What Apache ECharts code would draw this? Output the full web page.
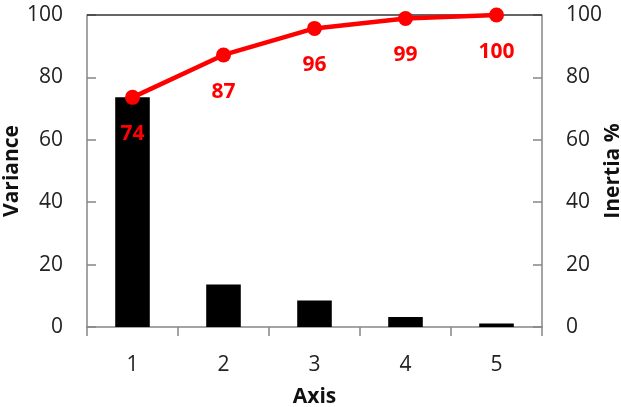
<!DOCTYPE html>
<html><head><meta charset="utf-8">
<script src="https://cdn.jsdelivr.net/npm/echarts@6/dist/echarts.min.js"></script>
<style>html,body{margin:0;padding:0;background:#fff}#c{width:621px;height:407px}</style>
</head><body><div id="c"></div>
<script>
var categories = ['1', '2', '3', '4', '5'];
var variance = [73.6, 13.6, 8.5, 3.2, 1.1];
var inertia = [73.6, 87.2, 95.7, 98.9, 100];
var yTicks = [0, 20, 40, 60, 80, 100];

var font = 'Open Sans';
var chart = echarts.init(document.getElementById('c'));
var axisLine = {show: true, lineStyle: {color: '#868686', width: 1.5}};
var yLabel = {fontFamily: font, fontSize: 21, color: '#222', margin: 24};
chart.setOption({
  animation: false,
  grid: {left: 87, right: 79, top: 15, bottom: 80, containLabel: false, outerBoundsMode: 'none'},
  xAxis: {
    type: 'category', data: categories, boundaryGap: true,
    axisLine: axisLine,
    axisTick: {show: true, inside: false, length: 9, alignWithLabel: false, lineStyle: {color: '#868686', width: 1.5}},
    axisLabel: {fontFamily: font, fontSize: 21, color: '#222', margin: 28},
    name: 'Axis', nameLocation: 'middle', nameGap: 60, nameMoveOverlap: false,
    nameTextStyle: {fontFamily: font, fontSize: 21, fontWeight: 'bold', color: '#111'}
  },
  yAxis: [{
    type: 'value', min: yTicks[0], max: yTicks[yTicks.length - 1], interval: 20,
    axisLine: axisLine,
    axisTick: {show: true, inside: true, length: 9, lineStyle: {color: '#868686', width: 1.5}},
    axisLabel: yLabel, splitLine: {show: false},
    name: 'Variance', nameLocation: 'middle', nameGap: 64, nameRotate: 90, nameMoveOverlap: false,
    nameTextStyle: {fontFamily: font, fontSize: 21, fontWeight: 'bold', color: '#111'}
  }, {
    type: 'value', min: yTicks[0], max: yTicks[yTicks.length - 1], interval: 20, position: 'right',
    axisLine: axisLine,
    axisTick: {show: true, inside: true, length: 9, lineStyle: {color: '#868686', width: 1.5}},
    axisLabel: yLabel, splitLine: {show: false},
    name: 'Inertia %', nameLocation: 'middle', nameGap: 61, nameRotate: 90, nameMoveOverlap: false,
    nameTextStyle: {fontFamily: font, fontSize: 21, fontWeight: 'bold', color: '#111'}
  }],
  series: [{
    type: 'bar', data: variance, barWidth: '38%', yAxisIndex: 0,
    itemStyle: {color: '#000'},
    markLine: {silent: true, symbol: 'none', label: {show: false},
      lineStyle: {color: '#333', width: 1.5, type: 'solid'},
      data: [{yAxis: 100}]}
  }, {
    type: 'line', data: inertia, yAxisIndex: 1, z: 5,
    lineStyle: {color: '#ff0000', width: 4.5},
    itemStyle: {color: '#ff0000'},
    symbol: 'circle', symbolSize: 15,
    label: {show: true, position: 'bottom', distance: 19,
      formatter: function (p) { return Math.round(p.value); },
      fontFamily: font, fontSize: 21, fontWeight: 'bold', color: '#ff0000'}
  }]
});
</script></body></html>
